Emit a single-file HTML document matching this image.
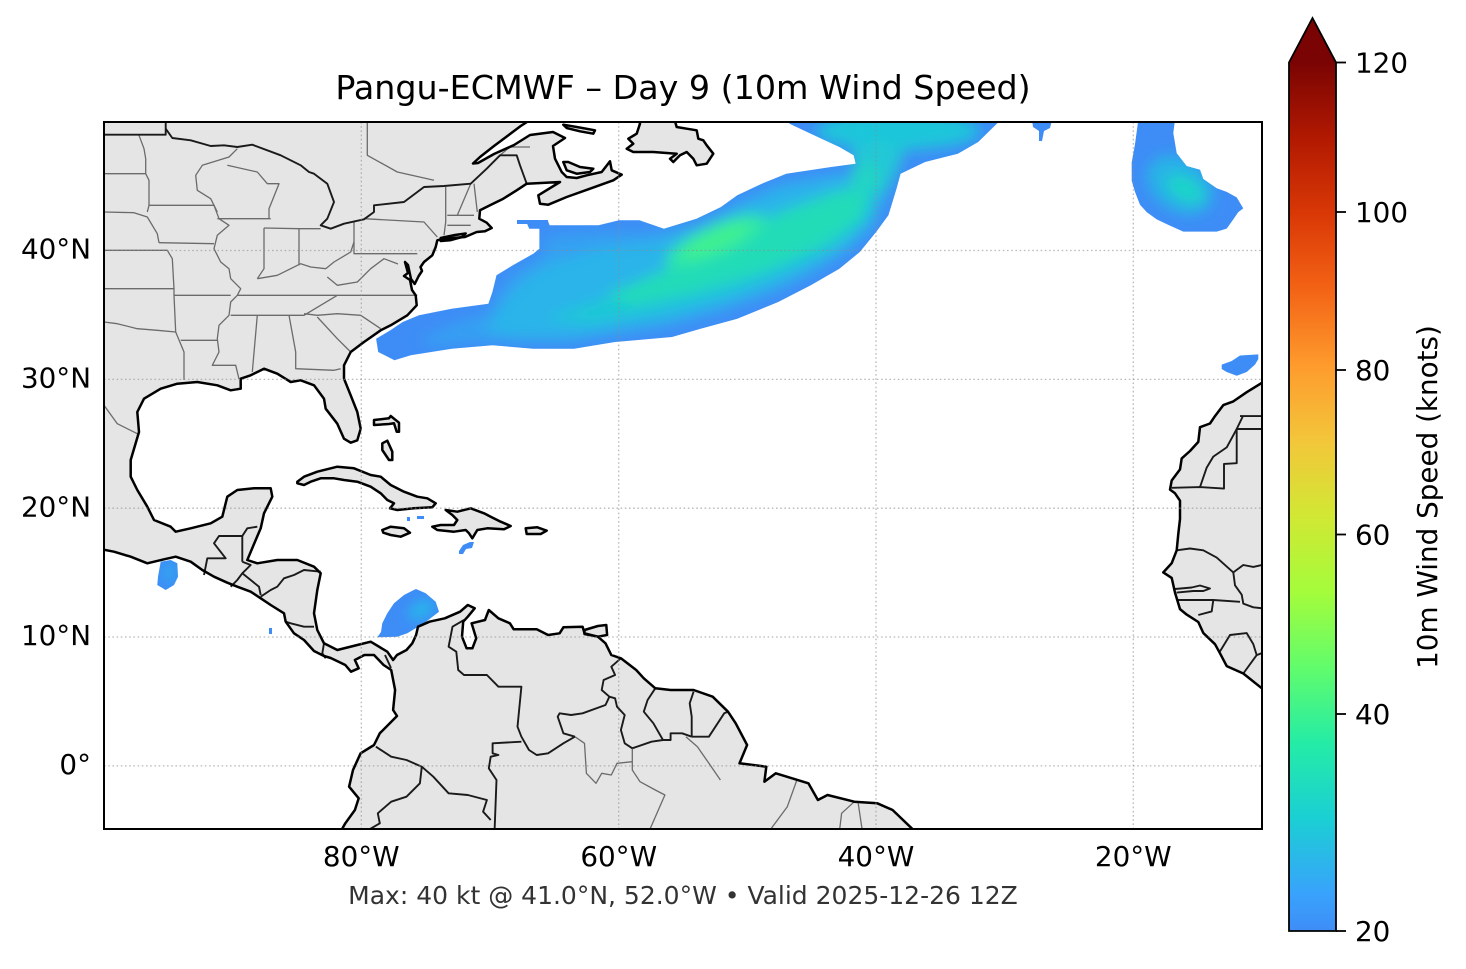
<!DOCTYPE html>
<html>
<head>
<meta charset="utf-8">
<style>
  html,body{margin:0;padding:0;background:#fff;}
  svg{display:block;}
  text{font-family:"DejaVu Sans","Liberation Sans",sans-serif;}
</style>
</head>
<body>
<svg width="1466" height="969" viewBox="0 0 1466 969" xmlns="http://www.w3.org/2000/svg">
<defs>
  <clipPath id="axclip"><rect x="104" y="122" width="1158" height="707"/></clipPath>
  <linearGradient id="cbar" x1="0" y1="1" x2="0" y2="0">
    <stop offset="0" stop-color="#3e8df6"/>
    <stop offset="0.042" stop-color="#39a2fc"/>
    <stop offset="0.129" stop-color="#1bcfd4"/>
    <stop offset="0.216" stop-color="#24eca6"/>
    <stop offset="0.303" stop-color="#61fc6c"/>
    <stop offset="0.39" stop-color="#a4fc3b"/>
    <stop offset="0.477" stop-color="#d1e834"/>
    <stop offset="0.564" stop-color="#f3c63a"/>
    <stop offset="0.651" stop-color="#fe9b2d"/>
    <stop offset="0.739" stop-color="#f36315"/>
    <stop offset="0.826" stop-color="#d93806"/>
    <stop offset="0.913" stop-color="#b11901"/>
    <stop offset="1" stop-color="#7a0403"/>
  </linearGradient>
  <filter id="blur10" x="-50%" y="-50%" width="200%" height="200%"><feGaussianBlur stdDeviation="10"/></filter>
  <filter id="blur7" x="-50%" y="-50%" width="200%" height="200%"><feGaussianBlur stdDeviation="7"/></filter>
  <filter id="blur6" x="-50%" y="-50%" width="200%" height="200%"><feGaussianBlur stdDeviation="6"/></filter>

  <polygon id="mainland" points="100,118 527,118 527,122 520.7,126 510.7,133.5 494,146 480,157 473,163.5 478,163 494,154 514,145 530,135 553,132 565,138 553,146 555,158.7 561.7,172 566.7,177 576.7,178 586.7,175.3 601.7,172 610,161.3 611.7,170.3 621.7,174.7 613.3,180.3 590,188.7 566.7,197 548.3,204.7 540,203.7 538.3,195.3 560,182 526.7,183.7 516.7,190.3 503.3,198.7 490,205.3 480,210.3 479.3,218.7 486.7,222.7 491.7,228 485,231.3 476.7,232 465,237 443.3,238.7 437.3,240.3 435.7,247 432.3,255.3 424,262 420.5,267 422,271 418.7,276 414.7,284 411,279 408,265 405,262 408,273 404,276 410,280 412,290 415.7,295.3 416.7,305.3 407.3,315.3 390.7,325.3 380.7,330.3 364,342 350.7,352 344,365.3 344,378.7 350.7,395.3 357.3,412 360.7,428.7 357.3,440.3 350.7,442.7 344,438.7 337.3,423.7 325.7,408.7 324,398.7 314,385.3 300.7,380.3 290.7,382 277.3,373.7 264,368.7 250.7,375.3 240.7,378.7 240.7,388.7 230.7,390.3 217.3,385.3 197.3,382 177.3,383.7 160.7,388.7 144,398.7 137.3,412 139,432 130.7,460 130.7,476.7 137.3,490 147.3,506.7 154,520 170.7,526.7 175.7,531.7 190.7,528.3 210.7,523.3 222.3,516.7 227.3,496.7 237.3,490 254,488.3 270.7,488.3 272.3,496.7 264,513.3 260.7,528.3 255.7,540 247.3,560 257.3,563.3 277.3,560 297.3,560 314,566.7 320.7,573.3 317.3,590 314,613.3 317.3,630 324,643.3 337.3,650 357.3,645 370.7,641.7 387.3,651.7 393.1,660 397,655 406.5,650 412.3,643.3 416.1,635 418,626.7 429.5,621.7 444.8,618.3 460.1,611.7 467.8,605 474.7,608.3 467.8,616.7 463.2,621.7 462,636.7 466.6,648.3 472.4,648.3 476.2,638.3 471.6,623.3 485,620 488.8,610 498.4,618.3 509.9,623.3 513.7,629.3 536.7,629.3 548.1,635 559.6,633.3 563.4,627.3 582.6,626.7 584.5,633.3 597.9,636.7 605.5,643.3 611.3,655 620.9,658.3 636.2,670 643.8,678.3 655.3,688.3 670.6,690 693.6,690 712.7,696.7 728,711.7 735.7,723.3 747.1,745 739.5,763.3 766.3,766.7 764.4,781.7 775.8,773.3 808.4,783.3 817.9,800 827.5,795 854.3,801.7 877.3,803.3 892.6,810 911.7,828.3 920,835 340,835 341.5,830 345.3,823.3 354.9,810 358.7,798.3 349.1,786.7 353,770 360.6,753.3 374,745 379.8,733.3 397,716 393.1,710 395.1,690 391.2,670 383.6,665 374,655 364.4,655 354.9,660 358.7,668.3 351,671.7 345.3,665 337,661 330.7,658 324,656 314,651 304,640 294,633.3 285.7,621.7 284,613.3 270.7,605 260.7,598.3 250.7,591.7 237.3,586.7 227.3,582.7 214,576.7 202.3,570 190.7,561.7 175.7,556.7 164,559.3 147.3,563.3 130.7,556.7 114,551.7 100,549"/>
  <polygon id="africa" points="1270,378 1261.7,383 1246.7,392.2 1233.3,401.4 1223.3,405.1 1215,416.1 1210,423.5 1200,427.2 1198.3,441.9 1190,451 1181.7,458.4 1180,469.4 1171.7,480.5 1170,489.6 1175,493.3 1180,500.7 1180,519 1178.3,533.8 1176.7,550.3 1171.7,563.2 1163.3,572.4 1171.7,577.9 1175,592.6 1180,609.1 1186.7,614.6 1198.3,622 1203.3,633 1215,644.2 1220,653.3 1226.7,666.1 1243.3,673.5 1261.7,688.2 1270,695"/>
  <polygon id="newf" points="638,118 674,118 676.7,127 686.7,128.7 696.7,130.3 698.3,138.7 703.3,140.3 706.7,145.3 713.3,153.7 706.7,163.7 696.7,165.3 693.3,158.7 686.7,152 680,155.3 673.3,162 670,158.7 676.7,153.7 653.3,152 633.3,152 626.7,148.7 633.3,143.7 628.3,138.7 636.7,133.7 640,123.7"/>
  <polygon id="antic" points="563.3,124.7 576.7,127 595,130.3 593.3,133.7 580,131.3 566.7,128"/>
  <polygon id="pei" points="563.3,162 568.3,162 580,167 593.3,168.7 590,172 576.7,173.7 566.7,170.3"/>
  <polygon id="longi" points="440.7,238 455,235 465.7,233.5 462,237 450,240.3 440.7,241"/>
  <polygon id="cuba" points="297.3,481.7 304,476.7 317.3,471.7 337.3,466.7 354,468.3 370.7,475 380.7,476.7 390.7,485 404,491.7 417.3,496.7 427.3,498.3 435.7,503.3 432.3,507.3 414,508.3 397.3,510 390,508.3 394,503.3 387.3,500 380.7,493.3 370.7,486.7 357.3,481.7 344,480 334,478.3 320.7,478.3 310.7,481.7 304,485 297.3,483.3"/>
  <polygon id="hisp" points="445.7,510 457.3,511.7 470.7,508.3 484,513.3 490.7,516.7 500.7,521.7 510.7,526 504,529.3 487.3,528.3 477.3,530 472.3,538.3 469,533.3 465.7,530 454,531.7 437.3,530 432.3,526.7 440.7,525 454,525 457.3,520 452.3,515"/>
  <polygon id="jam" points="382.3,530 390.7,526.7 404,528.3 410,532.7 400.7,536.7 390.7,535 383.3,532.7"/>
  <polygon id="pr" points="525.7,528.3 537.3,527.3 546.7,530.7 540.7,534 526.7,534"/>
  <polygon id="bah1" points="374,420 389,418.3 390.7,416 399,422.7 399,431.7 396.7,431.7 394,423.3 389,424 374,425"/>
  <polygon id="bah2" points="382.3,443.3 387.3,440.7 392.3,451.7 392.3,460 389,460 382.3,450"/>
  <polygon id="trin" points="584.5,630 597.9,626 606.3,625 607.1,635 597.9,636.7 584.5,634"/>

  <polygon id="blobmain" points="517,220 547.6,220 549.6,225.3 598.6,225.3 619,220.3 639.4,220.3 663.9,228.7 696.5,218.7 721,207 737.3,195.3 761.8,183.7 786.3,173.7 831.2,167 855.7,163.7 853.7,155.3 839.4,147 810.8,133.7 790,124 786,120 1002,120 998.6,122 978.2,142 957.8,153.7 925.1,162 900.6,173.7 896.5,188.7 888.4,215.3 876.1,232 859.8,252 839.4,268.7 810.8,285.3 778.2,302 737.3,318.7 700.6,328.7 672,337 635.3,340.3 614.9,342 574.1,348.7 533.3,348.7 492.4,345.3 451.6,348.7 410.8,355.3 394.5,360.3 378.2,352 376.1,338.7 390.4,330.3 402.7,322 419,315.3 451.6,308.7 488.4,303.7 492.4,292 496.5,275.3 512.9,265.3 533.3,253.7 539.4,248.7 539.4,228.7 529.2,228.7 527.1,223.7 517,223.7"/>
  <polygon id="blobne" points="1138.3,120 1175,120 1173.3,133 1176.7,153.3 1186.7,166.1 1200,169.8 1203.3,179 1216.7,188.2 1226.7,191.9 1236.7,197.4 1243.3,208.4 1238.3,212.1 1233.3,219.4 1226.7,228.6 1216.7,231.6 1183.3,231.6 1168.3,224.9 1156.7,219.4 1146.7,212.1 1140,204.7 1135,191.9 1131.7,180.8 1131.7,162.4 1135,144.1"/>
  <polygon id="blobcar" points="382.3,623.3 387.3,613.3 394,603.3 404,595 412.3,590.7 416,589 425.7,593.3 435.7,601.7 439,611.7 424,623.3 407.3,633.3 397.3,636.7 377.3,637.3 381,632"/>
  <polygon id="blobpac" points="160.7,561.7 170.7,560 177.3,563.3 178,576.7 174,585 165.7,590 157.3,585 158,576.7"/>
  <clipPath id="cmain"><use href="#blobmain"/></clipPath>
  <clipPath id="cne"><use href="#blobne"/></clipPath>
  <clipPath id="ccar"><use href="#blobcar"/></clipPath>
  <clipPath id="cpac"><use href="#blobpac"/></clipPath>
</defs>

<rect x="0" y="0" width="1466" height="969" fill="#ffffff"/>

<text x="683" y="99" font-size="33.3" text-anchor="middle" fill="#000">Pangu-ECMWF – Day 9 (10m Wind Speed)</text>

<g clip-path="url(#axclip)">
  <g fill="#e5e5e5" stroke="none">
    <use href="#mainland"/><use href="#africa"/><use href="#newf"/><use href="#antic"/><use href="#pei"/><use href="#longi"/>
    <use href="#cuba"/><use href="#hisp"/><use href="#jam"/><use href="#pr"/><use href="#bah1"/><use href="#bah2"/><use href="#trin"/>
  </g>

  <!-- wind blobs -->
  <g>
    <use href="#blobmain" fill="#3e8df6"/>
    <g clip-path="url(#cmain)">
      <g filter="url(#blur7)">
        <polygon fill="#34a0f2" points="420,340 460,322 490,312 500,290 515,272 540,258 548,235 600,232 650,232 700,222 740,200 780,182 840,172 870,170 890,172 885,200 872,228 850,250 812,274 770,294 720,312 670,326 620,334 570,342 520,342 470,342 430,346"/>
        <polygon fill="#2ab4ea" points="485,332 500,306 520,282 548,264 600,248 660,240 700,228 740,206 780,188 840,176 876,174 882,200 870,226 848,248 810,272 768,292 720,308 670,322 620,330 570,338 520,338"/>
        <polygon fill="#1fc8d6" points="545,318 600,300 660,280 720,256 780,222 840,190 876,184 872,214 840,244 790,270 730,294 660,312 590,324"/>
        <polygon fill="#22dcb8" points="605,296 660,272 720,246 780,212 840,190 868,190 860,220 822,246 762,272 692,292 632,304"/>
        <ellipse cx="716" cy="241" rx="55" ry="16" transform="rotate(-24 716 241)" fill="#2ee6a8"/>
        <ellipse cx="716" cy="240" rx="38" ry="10" transform="rotate(-24 716 240)" fill="#40f090"/>
        <ellipse cx="898" cy="131" rx="82" ry="19" fill="#1fc6da"/>
        <polygon fill="#22c8d6" points="850,150 880,140 905,150 895,175 885,195 860,180"/>
        <ellipse cx="865" cy="180" rx="14" ry="18" fill="#20d4c4"/>
      </g>
    </g>
    <use href="#blobne" fill="#3e8df6"/>
    <g clip-path="url(#cne)">
      <g filter="url(#blur7)">
        <ellipse cx="1180" cy="185" rx="36" ry="26" transform="rotate(35 1180 185)" fill="#26b4e6"/>
        <ellipse cx="1185" cy="189" rx="20" ry="11" transform="rotate(30 1185 189)" fill="#1fd6c6"/>
      </g>
    </g>
    <use href="#blobcar" fill="#3e8df6"/>
    <g clip-path="url(#ccar)">
      <g filter="url(#blur6)"><ellipse cx="421" cy="610" rx="14" ry="8" transform="rotate(-30 421 610)" fill="#28b6ea"/></g>
    </g>
    <use href="#blobpac" fill="#3e8df6"/>
    <g clip-path="url(#cpac)">
      <g filter="url(#blur6)"><ellipse cx="169" cy="573" rx="6" ry="10" fill="#2eaaee"/></g>
    </g>
    <g fill="#3e8df6">
      <polygon points="1221.7,364.6 1231.7,361 1240,355.5 1258.3,354.4 1258.3,359.1 1255,364.6 1246.7,372 1236.7,375.7 1226.7,372 1221.7,369"/>
      <polygon points="1032,120 1052,120 1050,128 1044,131 1042,141 1039,141 1039,131 1033,127"/>
      <polygon points="459,551 463,545 470,542 474,542 472,548 466,549 463,554 459,554"/>
      <rect x="407" y="517" width="3" height="4"/>
      <rect x="417" y="516" width="7" height="3"/>
      <rect x="269" y="628" width="3" height="6"/>
      <polygon points="517,220 548,220 548,224 517,224"/>
    </g>
  </g>

  <!-- state / province borders (gray) -->
  <g fill="none" stroke="#6b6b6b" stroke-width="1.3" stroke-linejoin="round">
    <polyline points="139,135.3 144,148.7 145.7,158.7 145.7,173.7 149,180.3 149,205.3 147.3,212"/>
    <polyline points="104,173.7 145.7,173.7"/>
    <polyline points="104,212 134,212.7 147.3,217 157.3,233.7 159,242.7"/>
    <polyline points="104,250.3 167.3,250.3 172.3,258.7 174,288.7"/>
    <polyline points="104,288.7 174,288.7 174,295.3 175.7,332 184,352 184,380"/>
    <polyline points="104,322 117.3,323.7 137.3,328.7 157.3,330.3 175.7,332"/>
    <polyline points="149,205.3 214,205.3 217.3,212"/>
    <polyline points="159,242.7 214,243.7"/>
    <polyline points="174,295.3 230.7,295.3"/>
    <polyline points="180.7,340.3 217.3,340.3"/>
    <polyline points="214,205.3 219,218.7 229,225.3 217.3,235.3 214,248.7 220.7,262 229,268.7 230.7,278.7 240.7,288.7 237.3,295.3 230.7,302 229,315.3 219,325.3 217.3,338.7 219,352 212.3,365.3 235.7,365.3 239,379"/>
    <polyline points="214,205.3 210.7,198.7 197.3,190.3 195.7,175.3 202.3,165.3 229,157 237.3,148.7"/>
    <polyline points="217.3,218.7 270.7,218.7"/>
    <polyline points="227.3,165.3 257.3,172 267.3,183.7 279,183.7 269,208.7 269,218.7"/>
    <polyline points="264,228 299,228.7 299,265.3"/>
    <polyline points="264,228 264,268.7 257.3,278.7"/>
    <polyline points="257.3,278.7 277.3,275.3 290.7,268.7 300.7,263.7 310.7,267 325.7,268.7 334,262 350.7,252 354,242"/>
    <polyline points="299,228.7 320.7,228.7"/>
    <polyline points="354,222 354,253.7 417.3,253.7"/>
    <polyline points="364,218.7 424,222 437.3,237"/>
    <polyline points="327.3,277 337.3,285.3 357.3,282 370.7,268.7 384,258.7 398,264"/>
    <polyline points="237.3,295.3 417.3,295.3"/>
    <polyline points="230.7,315.3 304,315.3 337.3,295.3"/>
    <polyline points="304,313.7 317.3,315.3 337.3,313.7 360.7,315.3 380.7,328.7"/>
    <polyline points="257.3,315.3 252.3,372"/>
    <polyline points="289,315.3 295.7,352 295.7,368.7 334,370.3 340.7,368.7"/>
    <polyline points="317.3,317 337.3,338.7 350.7,352"/>
    <polyline points="445.7,187 445.7,222 444,235.3"/>
    <polyline points="447.3,215.3 474,215.3"/>
    <polyline points="457.3,215.3 470.7,183.7"/>
    <polyline points="474,183.7 477.3,212"/>
    <polyline points="447.3,225.3 470.7,225.3"/>
    <polyline points="367.3,122 367.3,155.3 397.3,172 434,180.3"/>
    <polyline points="500,155.3 510,147 530,147"/>
    <polyline points="104,405.3 117.3,423.7 137.3,433.7"/>
    <polyline points="574.9,736.7 584.5,743.3 586.4,773.3 596,783.3 601.7,773.3 611.3,775 617,763.3 632.3,761.7"/>
    <polyline points="632.3,748.3 632.3,770 640,781.7 655.3,790 664.9,795 649.6,830"/>
    <polyline points="685.9,736.7 697.4,746.7 708.9,763.3 720.4,780"/>
    <polyline points="796.9,780 787.3,806.7 770.1,830"/>
    <polyline points="854.3,801.7 841.6,813.3 839.6,830"/>
    <polyline points="858.2,803.3 862.2,830"/>
  </g>

  <!-- country borders (dark) -->
  <g fill="none" stroke="#1a1a1a" stroke-width="1.9" stroke-linejoin="round">
    <polyline points="104,134.7 165.7,134.7 165.7,122"/>
    <polyline points="165.7,128.7 172.3,138 190.7,140.3 210.7,146 224,145.3 237.3,147 252.3,144.7 280.7,155.3 300.7,165.3 309,172 314,173.7 327.3,183.7 334,202 327.3,218.7 320.7,225.3 330.7,228.7 344,223.7 364,219.3 374,212 374,205.3 404,202 424,187 444,186 470.7,183.7 486.7,168.7 500,155.3 516.7,155.3 520,165.3 526.7,183.7"/>
    <polyline points="204,575 207.3,558.3 225.7,558.3 214,543.3 219,536 242.3,536 242.3,561.7"/>
    <polyline points="242.3,536 247.3,528.3 257.3,526.7"/>
    <polyline points="242.3,561.7 250.7,565 242.3,573.3 237.3,580 230.7,586.7"/>
    <polyline points="242.3,573.3 250.7,580 259,586.7 260.7,595"/>
    <polyline points="260.7,596.7 270.7,590 277.3,586.7 284,578.3 294,575 304,570 320.7,571.7"/>
    <polyline points="285.7,621.7 290.7,623.3 304,626.7 314,626.7"/>
    <polyline points="324,643.3 322.3,653.3 325.7,658.3"/>
    <polyline points="385,655 391,668"/>
    <polyline points="464,620 452.5,626.7 448.6,646.7 456.3,651.7 458.2,670 464,675 486.9,675 498.4,686.7 521.4,686.7 517.5,726.7 521.4,736.7 529,750 536.7,755 548.1,753.3 563.4,743.3 574.9,736.7"/>
    <polyline points="521.4,741.7 492.6,743.3 492.6,753.3 498.4,755 490.7,756.7 488.8,768.3 496.5,780 494.6,830"/>
    <polyline points="375.9,746.7 391.2,756.7 406.5,760 421.8,766.7 433.3,776.7 448.6,793.3 467.8,795 486.9,800 483.1,811.7 490.7,820"/>
    <polyline points="421.8,766.7 419.9,783.3 406.5,796.7 391.2,801.7 377.8,813.3 379.8,823.3 368.3,830"/>
    <polyline points="620.9,658.3 611.3,666.7 615.1,675 603.6,680 601.7,690 609.4,696.7 615.1,698.3 617,706.7 624.7,715 620.9,730 624.7,743.3 632.3,748.3"/>
    <polyline points="609.4,696.7 605.5,705 582.6,713.3 571.1,715 559.6,713.3 557.7,716.7 563.4,733.3 574.9,736.7"/>
    <polyline points="655.3,688.3 647.6,700 643.8,711.7 653.4,723.3 663,740"/>
    <polyline points="632.3,748.3 651.5,741.7 663,740 670.6,740 670.6,733.3 682.1,733.3 691.7,736.7"/>
    <polyline points="693.6,691.7 689.7,703.3 691.7,716.7 691.7,736.7"/>
    <polyline points="691.7,736.7 708.9,736.7 724.2,713.3 728,711.7"/>
    <polyline points="1240,416.1 1270,416.1"/>
    <polyline points="1236.7,429 1270,429"/>
    <polyline points="1171.7,487.8 1200,487.1 1224,488.6 1224,463.9 1236.7,463.2 1236.7,429"/>
    <polyline points="1200,487.1 1206.7,467.6 1213.3,456.6 1226.7,447.4 1236.7,429 1243,416"/>
    <polyline points="1176.7,550.3 1190,548.5 1203.3,550.3 1216.7,557.6 1233.3,572.4 1243.3,565 1253.3,566.9 1270,563.2"/>
    <polyline points="1233.3,572.4 1235,585.3 1241.7,594.7 1243.3,603.6 1253.3,607.3 1270,609.1"/>
    <polyline points="1175,589 1191.7,587.5 1200,585.5 1210,588.5 1203.3,591 1193.3,591 1176.7,592.6"/>
    <polyline points="1176.7,600 1213.3,600 1240,601.8"/>
    <polyline points="1213.3,600 1211.7,611.4 1198.3,615"/>
    <polyline points="1220,651.4 1230,635 1246.7,633.1 1253.3,644.1 1256.7,655.1 1243.3,673.5"/>
    <polyline points="1256.7,655.1 1270,650"/>
  </g>

  <!-- coastlines -->
  <g fill="none" stroke="#000" stroke-width="2.5" stroke-linejoin="round">
    <use href="#mainland"/><use href="#africa"/><use href="#newf"/><use href="#antic"/><use href="#pei"/><use href="#longi"/>
    <use href="#cuba"/><use href="#hisp"/><use href="#jam"/><use href="#pr"/><use href="#bah1"/><use href="#bah2"/><use href="#trin"/>
  </g>

  <!-- gridlines -->
  <g stroke="#8c8c8c" stroke-opacity="0.6" stroke-width="1.3" stroke-dasharray="1.6,2.6" fill="none">
    <line x1="361.3" y1="122" x2="361.3" y2="829"/>
    <line x1="618.7" y1="122" x2="618.7" y2="829"/>
    <line x1="876" y1="122" x2="876" y2="829"/>
    <line x1="1133.3" y1="122" x2="1133.3" y2="829"/>
    <line x1="104" y1="250.5" x2="1262" y2="250.5"/>
    <line x1="104" y1="379.4" x2="1262" y2="379.4"/>
    <line x1="104" y1="508.2" x2="1262" y2="508.2"/>
    <line x1="104" y1="637" x2="1262" y2="637"/>
    <line x1="104" y1="765.9" x2="1262" y2="765.9"/>
  </g>
</g>

<rect x="104" y="122" width="1158" height="707" fill="none" stroke="#000" stroke-width="2"/>

<g font-size="27.8" fill="#000" text-anchor="end">
  <text x="91" y="258.5">40°N</text>
  <text x="91" y="387.5">30°N</text>
  <text x="91" y="516.5">20°N</text>
  <text x="91" y="645">10°N</text>
  <text x="91" y="774">0°</text>
</g>
<g font-size="27.8" fill="#000" text-anchor="middle">
  <text x="361.3" y="866">80°W</text>
  <text x="618.7" y="866">60°W</text>
  <text x="876" y="866">40°W</text>
  <text x="1133.3" y="866">20°W</text>
</g>

<text x="683" y="904" font-size="25" fill="#333" text-anchor="middle">Max: 40 kt @ 41.0°N, 52.0°W • Valid 2025-12-26 12Z</text>

<rect x="1289" y="62.5" width="47" height="868.5" fill="url(#cbar)"/>
<polygon points="1289,62.5 1312.5,18 1336,62.5" fill="#7a0403"/>
<polygon points="1289,931 1289,62.5 1312.5,18 1336,62.5 1336,931" fill="none" stroke="#000" stroke-width="1.8" stroke-linejoin="miter"/>
<g stroke="#000" stroke-width="1.8">
  <line x1="1336" y1="931" x2="1346" y2="931"/>
  <line x1="1336" y1="714" x2="1346" y2="714"/>
  <line x1="1336" y1="534.5" x2="1346" y2="534.5"/>
  <line x1="1336" y1="370" x2="1346" y2="370"/>
  <line x1="1336" y1="212" x2="1346" y2="212"/>
  <line x1="1336" y1="62.5" x2="1346" y2="62.5"/>
</g>
<g font-size="27.8" fill="#000">
  <text x="1355" y="941">20</text>
  <text x="1355" y="724">40</text>
  <text x="1355" y="544.5">60</text>
  <text x="1355" y="380">80</text>
  <text x="1355" y="222">100</text>
  <text x="1355" y="72.5">120</text>
</g>
<text transform="translate(1437,497) rotate(-90)" font-size="27.8" fill="#000" text-anchor="middle">10m Wind Speed (knots)</text>
</svg>
</body>
</html>
